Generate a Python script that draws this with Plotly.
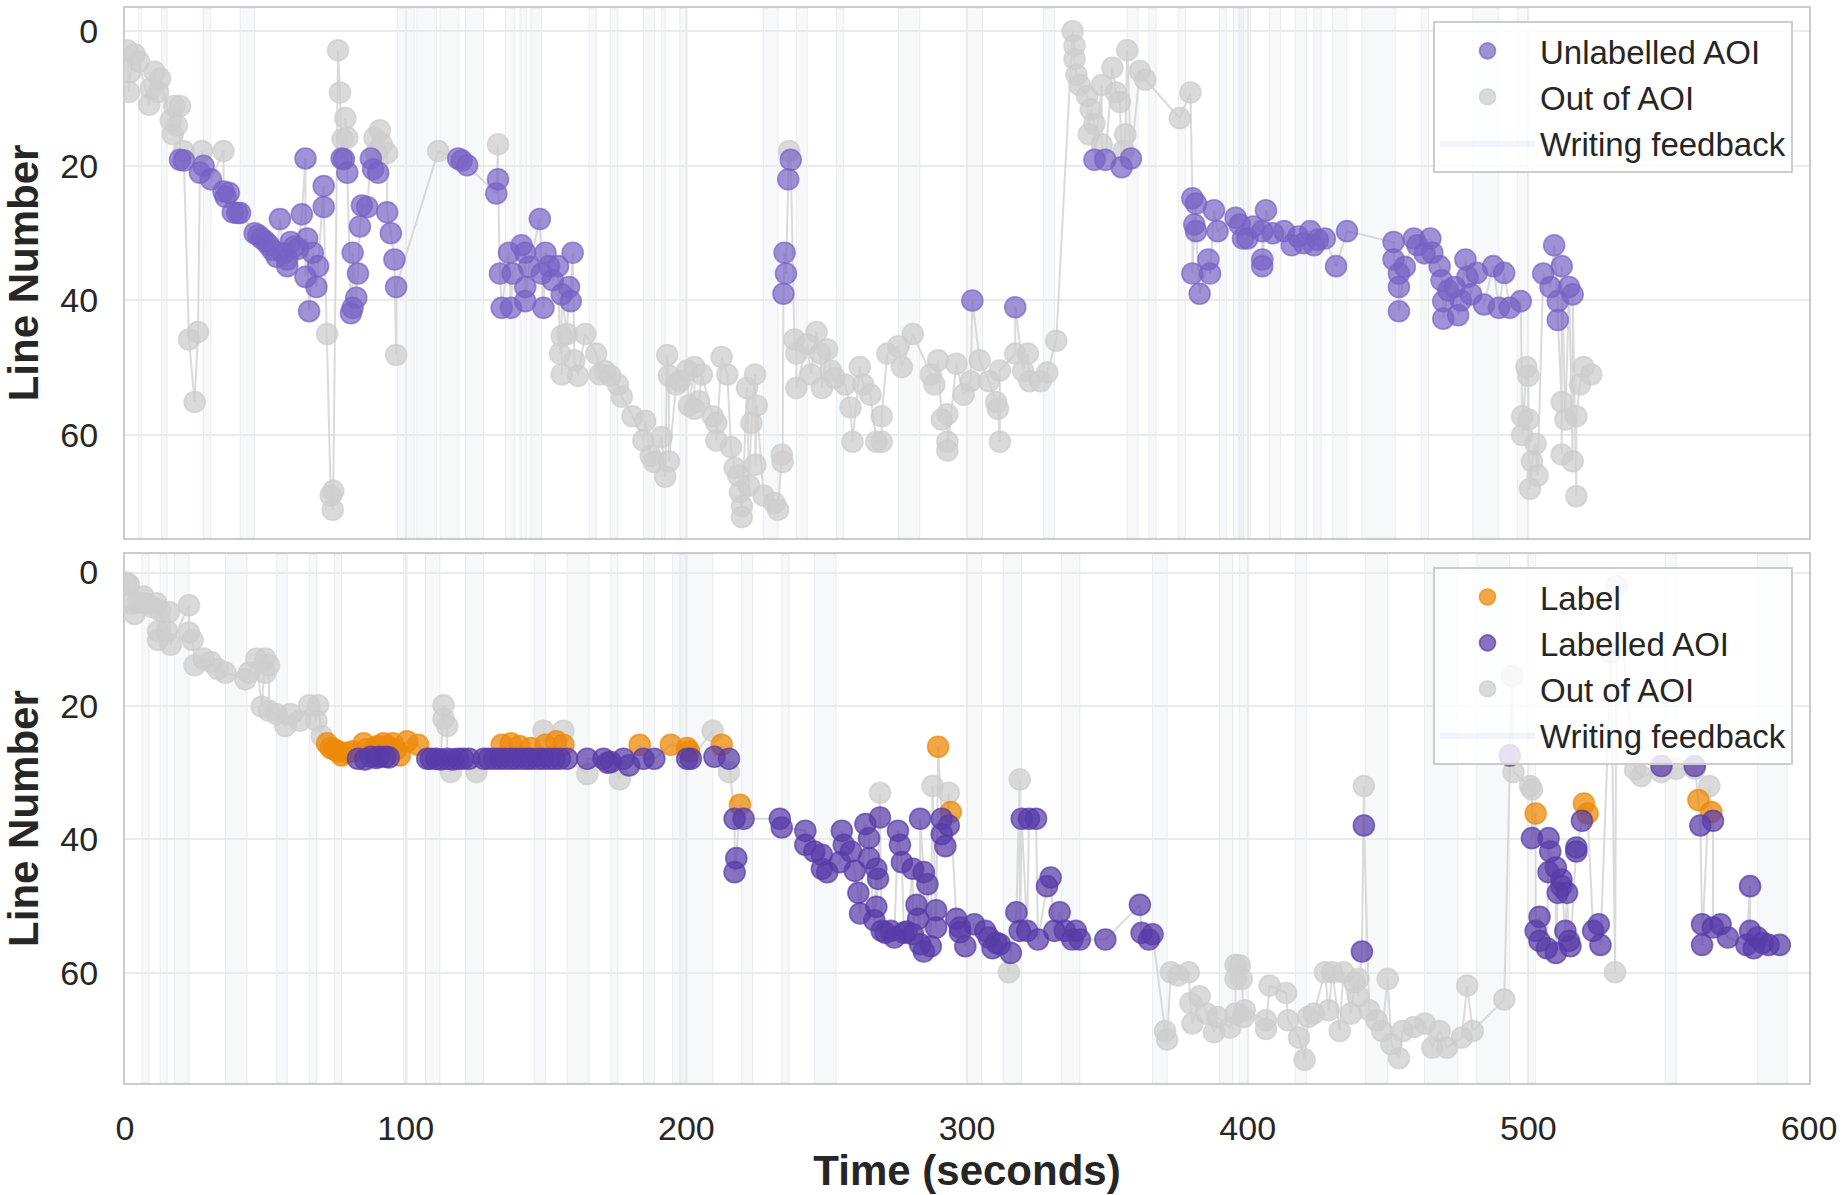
import numpy as np
import plotly.graph_objects as go

# ---------------- TOP PANEL DATA (time s, line number) ----------------
top_unl_t = [19.6, 21, 26.7, 28, 30.6, 35.1, 35.8, 37, 38.4, 40, 41,
             46.2, 47.5, 48.7, 50, 51.3, 52.5, 54, 55.2, 56.5, 57.8, 57.8, 59, 60.3, 61.7, 63, 64.3, 64.3, 64.9,
             65.6, 66.9, 68.2, 68.8, 70.8, 70.8,
             77.2, 78, 79.2, 80.5, 81.1, 81.1, 82.4, 83, 83.7, 84.4, 86.3, 87.6, 88.4, 90.2,
             93.4, 94.7, 96, 96.6, 118.7, 120, 121.9,
             132.9, 132.3, 133.6, 134.2, 136.8, 137.5, 138.1, 141.3, 142.6, 142.6, 142.6, 144, 147.8, 148.5,
             149.1, 149.8, 151.1, 152.4, 154.3, 155.6, 158.2, 158.8, 159.5,
             234.6, 235, 235.5, 236.3, 237.2, 301.9, 317.2, 345.4, 349.3, 355.1, 358.4,
             380.3, 381.6, 381, 381.6, 380.3, 382.9, 386, 386.6, 388, 389.3, 395.7, 397.2, 398.3, 399.9, 402,
             405.2, 405.2, 405.2, 406.5, 409, 413, 415.7, 418, 420, 422.3, 423.6, 425, 427.5, 431.5, 435.4,
             452, 452, 453.9, 453.9, 453.9, 456, 459.2, 460.5, 463, 465.1, 465.8, 468.4, 469.1, 469.7, 469.7,
             471.5, 473.7, 475, 476, 477.6, 478.3, 479.6, 481.6, 484.2, 487.5, 489.5, 491.4, 493.4, 497.3,
             505.3, 507.9, 509.2, 510.5, 510.5, 511.9, 514.5, 515.8]
top_unl_line = [19.1, 19.2, 21, 20, 22, 23.8, 24.6, 24, 26.9, 27, 27,
                30, 30.3, 30.8, 31.2, 31.8, 32.5, 33.5, 27.9, 33, 33.9, 34.9, 31.3, 32, 32.3, 27.2, 18.9, 36.5, 30.8,
                41.6, 32.9, 38, 34.9, 23, 26.1,
                18.9, 19, 21, 41.9, 41.1, 32.9, 39.6, 36, 29, 25.9, 26.1, 18.9, 20.5, 21,
                26.9, 30, 33.9, 38, 18.9, 19.2, 19.9,
                22, 24.1, 36, 41.1, 32.9, 41.1, 36, 31.8, 32.9, 38, 40.1, 35, 27.9, 36,
                41.1, 32.9, 34.9, 37, 34.9, 39.1, 38, 40.1, 32.9,
                39, 32.9, 36, 22, 19.1, 40, 41, 19.1, 19.1, 20.2, 18.9,
                24.8, 25.6, 28.7, 29.7, 36, 39, 33.9, 36, 26.6, 29.7, 27.7, 28.7, 30.8, 30.8, 29,
                29.7, 33.9, 34.9, 26.6, 30, 29.7, 31.8, 30.5, 31.5, 29.7, 31.8, 31, 30.8, 34.9, 29.7,
                31.3, 33.9, 36, 38, 41.6, 35, 30.8, 31.8, 33, 30.8, 32.9, 34.9, 37, 40.1, 42.7,
                38.5, 38, 42.2, 40, 33.9, 36.5, 39.1, 35.9, 40.6, 34.9, 41.1, 35.9, 41.1, 40.1,
                36, 38, 31.8, 40.1, 42.9, 34.9, 38, 39.1]

top_out_t = [0.8, 1.4, 2, 3.4, 5, 8.6, 9.2, 10.5, 11.8, 12.5, 16.3, 17, 17.6, 18.5, 19.6, 20.9,
             22.8, 24.8, 26, 27.4, 35.1, 72, 73.3, 74, 74.2, 75.9, 76.6, 77.5, 78.5, 79.2,
             88.9, 90.8, 91.5, 93.4, 89.5, 96.6, 111.6, 132.9,
             155.6, 155, 155.6, 157.5, 160.1, 161.4, 164, 167.9, 169.2, 171, 173, 175.6, 177, 180.8, 184.7,
             185.4, 187.3, 188.5, 191.2, 192.5, 193.2, 193.8, 193.8, 196.4, 197.7, 200.3, 200.9, 202.9, 202.9,
             204.5, 205.5, 209.4, 210.7, 210.7, 212.6, 214.6, 215.9, 217.2, 218.5, 219.1, 219.8, 219.8, 221.6,
             222.3, 223.2, 224.5, 225.1, 224.6, 227.5, 231.4, 232.7, 234, 234.3,
             236.6, 238.5, 239.2, 239.2, 243, 244.4, 246.4, 247.7, 248.3, 250.2, 251.5, 252.8, 256.6, 258.5,
             259.2, 261.8, 263, 265.6, 267.7, 269.6, 269.6, 271.6, 275.5, 276.8, 280.7, 287.1, 288.4, 289.7,
             291, 293, 293, 293, 296.2, 298.8, 301.3, 304.5, 307.8, 310.4, 311, 311.7, 311.7,
             317.2, 320, 321.7, 322.3, 326.2, 328.6, 331.8, 337.6, 338.3, 338.3, 339, 340.2, 342.8, 343.4,
             344.1, 345.4, 348, 348, 351.8, 353.1, 354.5, 355.8, 356.4, 357.1, 361.6, 363.5, 375.8, 379.6,
             499.3, 500, 497.8, 500, 497.8, 502.6, 501.3, 503.3, 500.6,
             511.9, 513.2, 511.9, 515.8, 517.1, 517.1, 518.4, 519.7, 522.4]
top_out_line = [2.8, 9, 6, 3.4, 4.5, 10.9, 8.5, 6, 9, 7, 13.2, 15.3, 11.1, 14, 11.1, 17.8,
                45.8, 55.1, 44.7, 17.8, 17.8, 45, 69, 71.1, 68.3, 2.8, 9.1, 16, 12.9, 15.8,
                15.8, 14.7, 16.8, 18.1, 18, 48.1, 17.8, 16.8,
                45.3, 47.9, 51, 45, 48.9, 51.2, 45, 47.9, 51, 50.5, 51.2, 52.5, 54.3, 57.2, 60.8,
                57.9, 63.1, 64, 60.3, 66.2, 48.1, 51.2, 63.9, 52.5, 52, 50.4, 55.6, 49.9, 56.1,
                55, 51, 57.2, 58.2, 60.8, 48.4, 51, 61.8, 64.9, 66, 68.5, 70.6, 72.2, 53,
                67.5, 58.2, 51, 55.6, 64.4, 69, 70.1, 71.1, 62.9, 64,
                17.8, 45.8, 47.9, 53, 46.5, 51, 44.7, 47.9, 53, 47.3, 50.4, 51.5, 52.5, 55.9,
                61, 49.9, 52.5, 54, 61, 61, 57.2, 47.9, 46.8, 49.9, 45, 51, 52.5, 48.9,
                57.7, 56.9, 61, 62.3, 49.4, 54, 52, 48.9, 52, 55.1, 56.1, 61, 50.4,
                47.9, 50.5, 47.9, 52, 52, 50.7, 46, 0, 2.1, 4.1, 6.5, 8, 9.6, 15.3,
                11.6, 13.7, 8, 16.8, 5.4, 9.1, 10.5, 17.8, 15.3, 2.8, 5.9, 7.2, 12.9, 9.1,
                49.9, 51.2, 57.2, 57.7, 60, 61.3, 63.9, 66, 68,
                55.1, 57.7, 62.9, 63.9, 69.1, 57.2, 52.5, 49.9, 51]

# ---------------- BOTTOM PANEL DATA ----------------
bot_label_t = [72, 73.3, 74.5, 75.9, 77.2, 79, 81.1, 85, 86, 88.9, 90, 92.1, 93.5, 95.4, 96.5, 97.9, 100.5, 104.4,
               134.2, 137.5, 140.5, 144.6, 149.8, 153.6, 156.2, 183.4, 194.5, 200.3, 201, 212.6, 219.1,
               289.7, 294.2, 502.6, 519.8, 521.1, 560.6, 565.2]
bot_label_line = [25.6, 26.3, 26.5, 26.8, 27.4, 27, 26.8, 25.6, 26.5, 26.3, 26, 25.6, 26, 25.6, 26.5, 27.4, 25.3, 25.8,
                  25.8, 25.6, 26, 26.3, 25.8, 25.3, 25.8, 25.8, 25.8, 26.3, 26.8, 25.8, 34.8,
                  26.1, 35.9, 36.1, 34.6, 36.1, 34.1, 35.9]

bot_aoi_t = [83, 85.5, 87.6, 89.5, 90.5, 92.8, 94,
             107.7, 109, 110.9, 112.5, 114.8, 116.8, 118.7, 120.5, 122.6,
             127.8, 129.5, 131.6, 133.5, 135.5, 137.5, 139.4, 141.5, 143.3, 145, 147.2, 149, 151.1, 153, 155, 157.5,
             164.7, 170.5, 172, 173.1, 177.6, 179.6, 184.7, 188.6, 200.3, 201.6, 210, 215.2,
             217.2, 220.4, 217.8, 217.2, 233.3, 234, 242.4, 242.4, 245.6, 248.3, 248.3, 250.2, 254.7, 255.4,
             256.1, 258.7, 260, 261.3, 261.9, 263.8, 265.1, 265.1, 267.7, 268.3, 267.7, 267, 269, 269.6, 271,
             272.8, 274.1, 275.4, 276.1, 276.8, 277.5, 278.5, 280.7, 282, 282.6, 284.6, 285.9, 280.7, 283.3,
             284.6, 287.1, 283.3, 289, 289, 291, 293.5, 291, 292.3,
             296.2, 297.5, 297.5, 299.4, 302.6, 306.5, 307.8, 309.1, 310.5, 311.7, 315.6, 317.6, 318.8, 319.5,
             322.1, 324.6, 321.4, 325.3, 328.5, 329.8, 331.1, 333, 334.9, 337.5, 338.8, 340.2, 349.3, 361.6,
             362.2, 364.8, 366.1,
             440.7, 441.4, 493.4, 501.3, 502.6, 504, 504, 506.6, 507.2, 507.8, 509.8, 507.2, 511.8, 511.8, 513.8,
             510.5, 509.8, 513.2, 514.5, 515, 517.1, 517.1, 519.1, 523.1, 525.1, 525.7, 547.4, 559.3, 561.3,
             565.8, 561.9, 561.9, 565.8, 568.5, 571.1, 579, 579, 577.7, 580.3, 581.6, 583.5, 585.6, 589.6]
bot_aoi_line = [27.9, 28, 27.6, 27.8, 27.6, 27.6, 27.7,
                27.9, 27.9, 27.9, 28, 27.9, 28, 27.9, 27.9, 27.9,
                27.9, 27.9, 27.9, 27.9, 27.9, 27.9, 27.9, 27.9, 27.9, 27.9, 27.9, 27.9, 27.9, 27.9, 27.9, 27.9,
                27.9, 27.9, 28.5, 28.4, 27.9, 28.9, 27.9, 27.9, 27.9, 27.9, 27.6, 27.9,
                36.9, 36.9, 42.8, 44.9, 36.9, 38.2, 38.7, 40.8, 41.8, 42.3, 44.4, 44.9, 43.4, 38.7,
                40.8, 41.8, 44.7, 48, 51.1, 37.7, 39.8, 42.8, 44.4, 45.9, 50.1, 52.1, 36.7, 53.7, 54,
                53.7, 54.7, 38.7, 40.8, 43.4, 54, 53.8, 44.4, 49.8, 51.9, 44.9, 46.7, 54.2, 55.7,
                56.8, 56, 36.9, 50.6, 53.2, 36.9, 37.9, 39.2, 41,
                51.9, 53.2, 53.9, 56, 52.7, 53.7, 54.7, 56.3, 55.5, 55.7, 57, 50.9, 53.7, 36.9,
                36.9, 36.9, 53.7, 55, 47, 45.7, 53.7, 50.9, 53.7, 55, 53.7, 55, 55, 49.8,
                54, 55, 54.2,
                56.8, 37.9, 27.4, 39.8, 53.7, 51.6, 55.2, 56.3, 39.8, 41.8, 44.2, 44.9, 46, 47, 48,
                48, 57, 53.7, 55.2, 56, 41.2, 41.8, 37.2, 53.7, 52.7, 55.8, 29, 29, 37.9,
                37.2, 52.7, 55.8, 53.2, 52.7, 54.7, 47, 53.7, 55.8, 56.3, 54.7, 55.5, 55.8, 55.8]

bot_out_t = [0.5, 1.4, 2.1, 3.4, 4.5, 6.6, 7.3, 9.9, 11.2, 12.5, 11.8, 11.8, 15, 15.7, 16.3, 22.8, 22.8, 24.1,
             24.8, 28, 30.6, 33.2, 35.8, 42.9, 44.2, 46.8, 48.7, 50, 51.3, 50, 51.3, 54, 57.1, 59, 62.3, 65.6,
             68.2, 68.8, 70.1, 113.5, 113.5, 114.8, 116.1, 125.2, 149.1, 156.2, 164.7, 176.3, 209.4, 215.2,
             269, 287.7, 293.5, 314.9, 318.8,
             370.6, 371.3, 372.6, 375.1, 379, 379.6, 380.3, 382.9, 385.4, 388, 389.2, 393.8, 395.7, 395.7, 395.7,
             397.2, 397.9, 398.6, 399, 406.5, 406.5, 407.8, 413.7, 414.4, 418.3, 420.3, 421.6, 423.6, 427.5,
             428.9, 430.2, 432.8, 434.1, 436.8, 438.1, 439.4, 439.4, 441.4, 443.3, 445.9, 447.9, 449.9, 451.2,
             453.9, 455.2, 459.2, 463.1, 465.8, 468.4, 471, 476.3, 478.2, 480.2, 491.4, 494.2, 494.7, 500.6,
             501.3, 529.5, 531.5, 530.9, 540.2, 538, 547.4, 552.7, 559.3, 564.5]
bot_out_line = [1.5, 1.8, 4.6, 6.2, 4.5, 3.6, 4.6, 5.2, 4.6, 5.7, 8.8, 10.1, 8.8, 5.9, 10.8, 4.9, 9, 10.1,
                13.9, 12.9, 13.4, 14.5, 15, 16, 15, 12.9, 20.1, 12.9, 13.9, 15, 20.7, 21.2, 23, 21.2, 22.2, 19.9,
                22.2, 19.9, 24.5, 19.9, 21.9, 23, 29.9, 29.9, 23.7, 23.7, 30.2, 31, 23.7, 29.9,
                33, 32, 33, 59.9, 31,
                68.7, 70, 59.9, 60.4, 59.9, 64.5, 67.6, 63.5, 66.1, 68.9, 66.6, 68.2, 66.1, 60.9, 58.8,
                58.9, 60.9, 66.6, 65.6, 67.1, 68.4, 61.9, 63, 67.1, 69.7, 73, 66.6, 66.1, 59.9,
                65.6, 59.9, 68.7, 59.9, 66.1, 61.4, 60.9, 63.5, 32, 65.6, 67.1, 68.7, 60.9, 70.7,
                72.8, 68.7, 68.1, 67.6, 71.2, 68.7, 71.2, 69.7, 61.9, 68.7, 64, 15.5, 29.9, 32,
                32.5, 12, 2.0, 59.9, 30.5, 29.5, 29.9, 29.4, 29.4, 32]

# ---------------- WRITING FEEDBACK INTERVALS (s) ----------------
top_fb_start = [4.7, 13.1, 28, 41, 97, 104, 112.2, 121.3, 135.5, 140.7, 144.6, 165.3, 173, 184.7, 191.2,
                197.7, 227.5, 239.2, 253.4, 275.5, 300, 327.3, 357, 364.8, 375.2, 389.9, 394.9,
                397, 407.8, 417, 423.6, 430.2, 440.7, 461.8, 480.2, 496]
top_fb_end = [6, 15, 30.6, 46.1, 103, 111, 119, 127.8, 139, 143, 148.5, 167.9, 175.6, 188.6, 192.5,
              200.3, 232.7, 243.1, 256, 283.2, 305.6, 331.1, 361, 367.4, 377.8, 392.4, 398.5,
              401, 411.7, 421, 426.2, 435.4, 452.6, 464.5, 489.5, 500]
bot_fb_start = [6, 12.5, 17.6, 35.8, 54, 65.6, 74.6, 99.2, 107, 121.3, 145.9, 157.5, 173.1, 184.7, 195.1,
                197.7, 219.7, 234, 245.6, 300, 313, 333.7, 366.1, 389.9,
                397, 417, 442, 463, 481.6, 500, 548.7, 581.7]
bot_fb_end = [8.6, 15, 22.8, 43.5, 57.8, 68.2, 77.2, 100.5, 112.2, 127.8, 149.8, 165.3, 175.6, 188.6, 200.3,
              209.4, 223.6, 236.6, 253.4, 305.3, 319.5, 340.2, 371.3, 394.6,
              399.9, 420.9, 449.9, 474.9, 493.4, 502.6, 552.7, 592.2]

x_ticks = [0, 100, 200, 300, 400, 500, 600]
y_ticks = [0, 20, 40, 60]

FONT = "Liberation Sans, Arial, Helvetica, sans-serif"
C_UNL = "rgba(118,98,196,0.70)"
C_AOI = "rgba(88,60,168,0.72)"
C_LAB = "rgba(238,138,10,0.75)"
C_OUT = "rgba(205,205,205,0.75)"
C_FB = "rgba(222,229,238,0.28)"
C_FB_EDGE = "rgba(200,208,218,0.35)"
C_PATH = "rgba(211,211,211,0.85)"
MS = 21

fig = go.Figure()


def add_panel(xa, ya, groups, legend):
    all_t = np.concatenate([np.asarray(g[1], float) for g in groups])
    all_l = np.concatenate([np.asarray(g[2], float) for g in groups])
    order = np.argsort(all_t, kind="stable")
    fig.add_trace(go.Scatter(x=all_t[order], y=all_l[order], mode="lines",
                             line=dict(color=C_PATH, width=2), showlegend=False,
                             hoverinfo="skip", xaxis=xa, yaxis=ya))
    for name, t, l, color, rank in groups:
        fig.add_trace(go.Scatter(x=t, y=l, mode="markers", name=name,
                                 marker=dict(size=MS, color=color, line=dict(color=color, width=1.6)),
                                 xaxis=xa, yaxis=ya, legend=legend, legendrank=rank))
    fig.add_trace(go.Scatter(x=[None], y=[None], mode="lines", fill="toself", fillcolor="rgba(225,231,239,0.45)",
                             line=dict(width=0, color="rgba(225,231,239,0.45)"), name="Writing feedback",
                             xaxis=xa, yaxis=ya, legend=legend, legendrank=99))


add_panel("x", "y", [("Out of AOI", top_out_t, top_out_line, C_OUT, 2),
                     ("Unlabelled AOI", top_unl_t, top_unl_line, C_UNL, 1)], "legend")
add_panel("x2", "y2", [("Out of AOI", bot_out_t, bot_out_line, C_OUT, 3),
                       ("Label", bot_label_t, bot_label_line, C_LAB, 1),
                       ("Labelled AOI", bot_aoi_t, bot_aoi_line, C_AOI, 2)], "legend2")

shapes = []
for s, e in zip(top_fb_start, top_fb_end):
    shapes.append(dict(type="rect", xref="x", yref="y domain", x0=s, x1=e, y0=0, y1=1,
                       fillcolor=C_FB, line=dict(width=1, color=C_FB_EDGE), layer="below"))
for s, e in zip(bot_fb_start, bot_fb_end):
    shapes.append(dict(type="rect", xref="x2", yref="y2 domain", x0=s, x1=e, y0=0, y1=1,
                       fillcolor=C_FB, line=dict(width=1, color=C_FB_EDGE), layer="below"))

axis_common = dict(showgrid=True, gridcolor="#ebebeb", gridwidth=1.5, zeroline=False,
                   showline=True, mirror=True, linecolor="#cccccc", linewidth=2,
                   ticks="", tickfont=dict(family=FONT, size=34, color="#262626"))
title_font = dict(family=FONT, size=42, color="#262626", weight="bold")

legend_common = dict(xanchor="right", x=0.9905, yanchor="top", bgcolor="rgba(255,255,255,0.8)",
                     bordercolor="#cccccc", borderwidth=2, itemwidth=95, tracegroupgap=0,
                     font=dict(family=FONT, size=33, color="#262626"), itemsizing="trace")

fig.update_layout(
    width=1844, height=1195,
    margin=dict(l=125, r=35, t=6, b=112),
    paper_bgcolor="white", plot_bgcolor="white",
    shapes=shapes,
    xaxis=dict(domain=[0, 1], anchor="y", range=[0, 600], tickvals=x_ticks, showticklabels=False,
               matches="x2", **axis_common),
    yaxis=dict(domain=[0.507, 1], anchor="x", range=[75.3, -3.47], tickvals=y_ticks,
               ticklabelstandoff=18,
               title=dict(text="Line Number", font=title_font, standoff=14), **axis_common),
    xaxis2=dict(domain=[0, 1], anchor="y2", range=[0, 600], tickvals=x_ticks, ticklabelstandoff=14,
                title=dict(text="Time (seconds)", font=title_font, standoff=10), **axis_common),
    yaxis2=dict(domain=[0, 0.492], anchor="x2", range=[76.5, -2.77], tickvals=y_ticks,
                ticklabelstandoff=18,
                title=dict(text="Line Number", font=title_font, standoff=14), **axis_common),
    legend=dict(y=0.988, **legend_common),
    legend2=dict(y=0.480, **legend_common),
    showlegend=True,
)

fig.write_html("out.html")
